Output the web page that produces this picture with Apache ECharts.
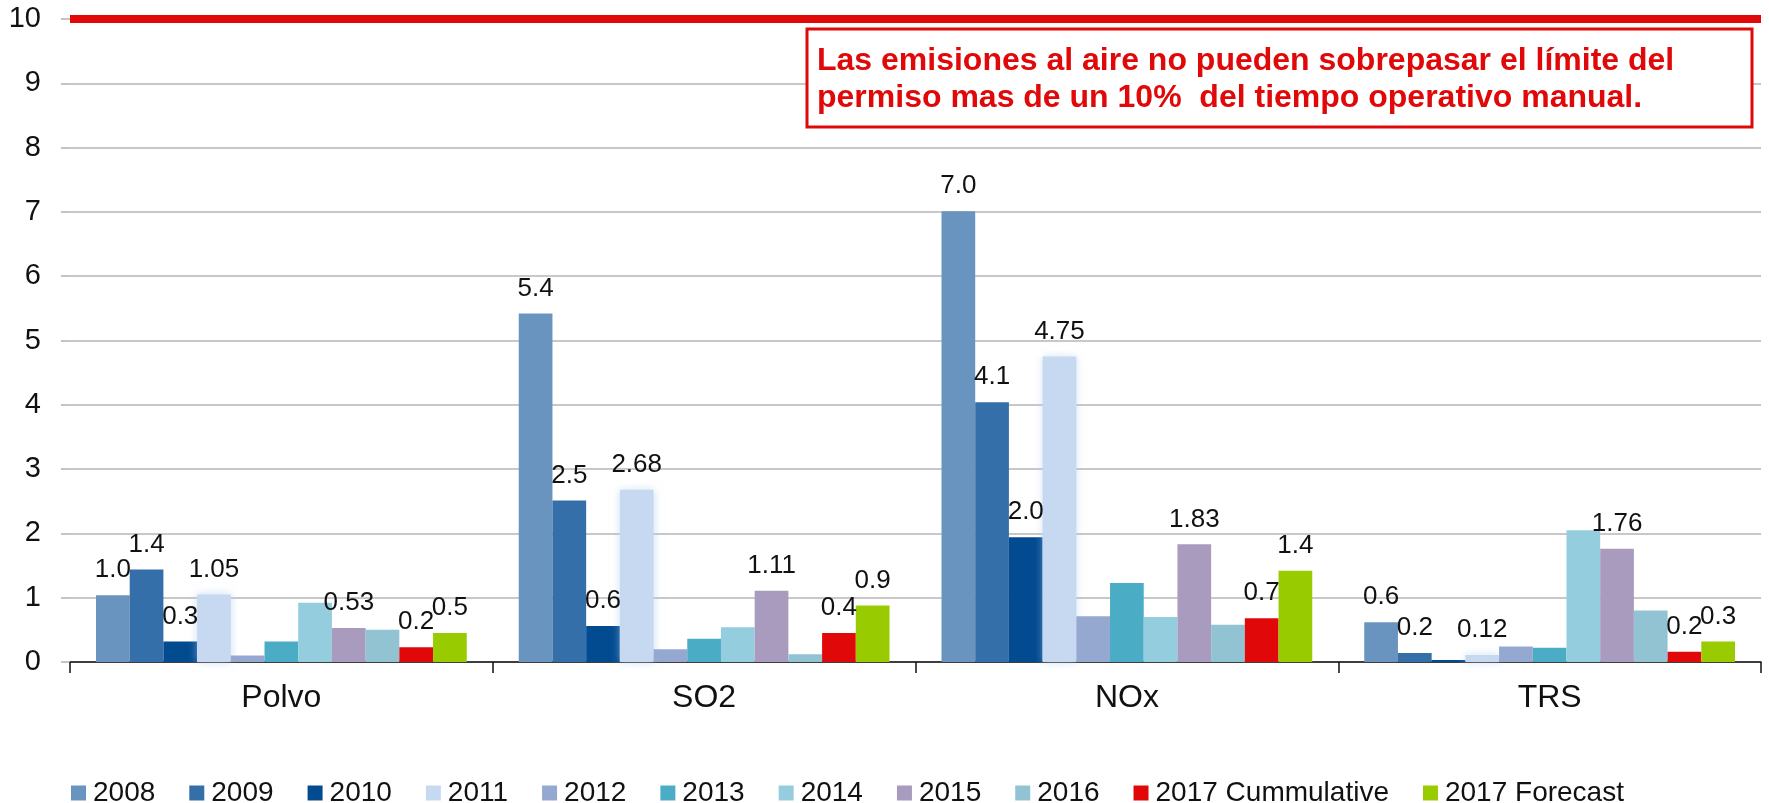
<!DOCTYPE html>
<html>
<head>
<meta charset="utf-8">
<script src="https://cdn.jsdelivr.net/npm/echarts@6/dist/echarts.min.js"></script>
<style>
html,body{margin:0;padding:0;background:#fff;}
#chart{width:1769px;height:803px;}
</style>
</head>
<body>
<div id="chart"></div>
<script>
// ---- data ----
const categories = ['Polvo', 'SO2', 'NOx', 'TRS'];
const seriesNames = ['2008', '2009', '2010', '2011', '2012', '2013', '2014', '2015', '2016', '2017 Cummulative', '2017 Forecast'];
const v2008 = [1.04, 5.42, 7.01, 0.62];
const v2009 = [1.44, 2.51, 4.04, 0.14];
const v2010 = [0.32, 0.56, 1.94, 0.03];
const v2011 = [1.05, 2.68, 4.75, 0.11];
const v2012 = [0.10, 0.20, 0.71, 0.24];
const v2013 = [0.32, 0.36, 1.23, 0.22];
const v2014 = [0.92, 0.54, 0.70, 2.05];
const v2015 = [0.53, 1.11, 1.83, 1.76];
const v2016 = [0.50, 0.12, 0.58, 0.80];
const v2017c = [0.23, 0.45, 0.68, 0.16];
const v2017f = [0.45, 0.88, 1.42, 0.32];
// data label texts as printed on the chart ('' = no label)
const l2008 = ['1.0', '5.4', '7.0', '0.6'];
const l2009 = ['1.4', '2.5', '4.1', '0.2'];
const l2010 = ['0.3', '0.6', '2.0', ''];
const l2011 = ['1.05', '2.68', '4.75', '0.12'];
const lNone = ['', '', '', ''];
const l2015 = ['0.53', '1.11', '1.83', '1.76'];
const l2017c = ['0.2', '0.4', '0.7', '0.2'];
const l2017f = ['0.5', '0.9', '1.4', '0.3'];
const yTicks = [0, 1, 2, 3, 4, 5, 6, 7, 8, 9, 10];
const limitValue = 10;
const noteText = 'Las emisiones al aire no pueden sobrepasar el límite del\npermiso mas de un 10%  del tiempo operativo manual.';

const values = [v2008, v2009, v2010, v2011, v2012, v2013, v2014, v2015, v2016, v2017c, v2017f];
const labels = [l2008, l2009, l2010, l2011, lNone, lNone, lNone, l2015, lNone, l2017c, l2017f];
const colors = ['#6894bf', '#346fa9', '#034b90', '#c6d9f0', '#95a8d0', '#4bacc6', '#94cddd', '#a99bbd', '#92c3d3', '#e00808', '#99cc00'];

const FONT = '"Liberation Sans", Arial, sans-serif';

const series = seriesNames.map((name, i) => {
  const s = {
    name: name,
    type: 'bar',
    data: values[i],
    barGap: '0%',
    barCategoryGap: '12.3%',
    itemStyle: { color: colors[i] },
    label: {
      show: true,
      position: 'top',
      distance: 12,
      color: '#111',
      fontSize: 26,
      fontFamily: FONT,
      formatter: p => labels[i][p.dataIndex]
    }
  };
  if (i === 3) {
    s.itemStyle.shadowBlur = 8;
    s.itemStyle.shadowColor = 'rgba(170,200,240,0.6)';
  }
  if (i === 0) {
    s.markLine = {
      silent: true,
      symbol: ['none', 'none'],
      label: { show: false },
      lineStyle: { color: '#e00808', width: 8, type: 'solid' },
      data: [{ yAxis: limitValue }]
    };
  }
  return s;
});

const chart = echarts.init(document.getElementById('chart'), null, { renderer: 'canvas' });
chart.setOption({
  animation: false,
  backgroundColor: '#ffffff',
  color: colors,
  grid: { left: 70, right: 8, top: 19, bottom: 141, containLabel: false },
  legend: {
    left: 66,
    top: 774,
    itemWidth: 15,
    itemHeight: 15,
    itemGap: 34,
    icon: 'rect',
    textStyle: { fontSize: 28, color: '#111', fontFamily: FONT, padding: [0, 0, 0, 2] },
    data: seriesNames
  },
  xAxis: {
    type: 'category',
    data: categories,
    boundaryGap: true,
    axisLine: { show: true, lineStyle: { color: '#111', width: 1.5 } },
    axisTick: { show: true, length: 11, lineStyle: { color: '#111', width: 1.5 } },
    axisLabel: { fontSize: 32, color: '#111', fontFamily: FONT, margin: 20 },
    splitLine: { show: false }
  },
  yAxis: {
    type: 'value',
    min: yTicks[0],
    max: yTicks[yTicks.length - 1],
    interval: 1,
    axisLine: { show: false },
    axisTick: { show: true, length: 9, lineStyle: { color: '#c4c4c4', width: 2 } },
    axisLabel: { fontSize: 29, color: '#111', fontFamily: FONT, margin: 29 },
    splitLine: { show: true, lineStyle: { color: '#c8c8c8', width: 2 } }
  },
  graphic: [
    {
      type: 'rect',
      z: 50,
      shape: { x: 807, y: 29, width: 945, height: 98 },
      style: { fill: '#ffffff', stroke: '#e00808', lineWidth: 3 }
    },
    {
      type: 'text',
      z: 51,
      x: 817,
      y: 43,
      style: {
        text: noteText,
        font: 'bold 32px ' + FONT,
        fill: '#e00808',
        lineHeight: 37,
        textVerticalAlign: 'top'
      }
    }
  ],
  series: series
});
</script>
</body>
</html>
